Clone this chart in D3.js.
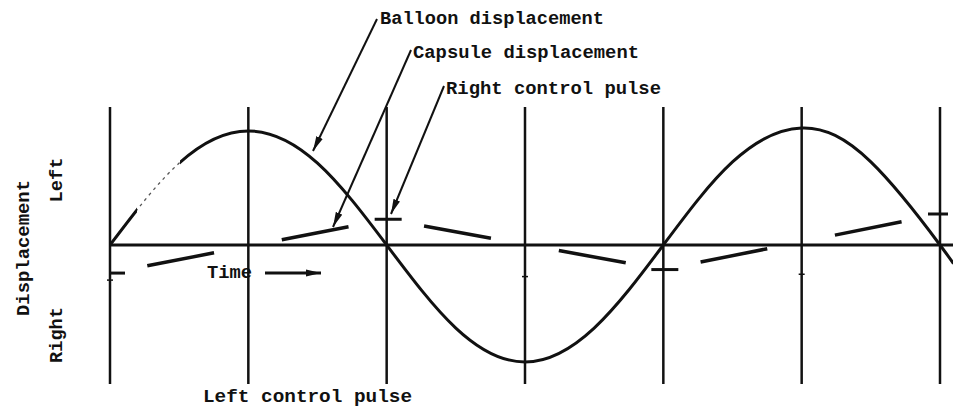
<!DOCTYPE html>
<html>
<head>
<meta charset="utf-8">
<script src="https://cdn.jsdelivr.net/npm/d3@7"></script>
<style>
body{margin:0;background:#fff;}
text{font-family:"Liberation Mono","DejaVu Sans Mono",monospace;font-weight:bold;fill:#111;}
</style>
</head>
<body>
<div class="chart"></div>
<script>
// time in grid intervals, displacement scaled so the balloon peak is 1
const gridTimes = [0, 1, 2, 3, 4, 5, 6];
const balloonTimes = [0, 0.5, 1, 1.5, 2, 2.5, 3, 3.5, 4, 4.5, 5, 5.5, 6, 6.1];
const balloonValues = [0, 0.70, 0.975, 0.70, 0, -0.71, -1.0, -0.71, 0, 0.71, 1.0, 0.71, 0, -0.17];
const pulseTimes = [0, 2, 4, 6];
const capsuleValues = [-0.24, 0.22, -0.21, 0.265];
const markTimes = [0, 3, 5];
const markValues = [-0.30, -0.27, -0.25];
const calloutLabels = ["Balloon displacement", "Capsule displacement", "Right control pulse"];

const width = 953, height = 409;
const svg = d3.select('.chart').append('svg')
    .attr('width', width)
    .attr('height', height);

const xScale = d3.scaleLinear().domain([0, 6]).range([110, 940]);
const yScale = d3.scaleLinear().domain([-1, 1]).range([362, 128]);

const ink = "#111";

// arrow heads
const defs = svg.append("defs");
defs.append("marker")
    .attr("id", "head")
    .attr("markerUnits", "userSpaceOnUse")
    .attr("markerWidth", 16).attr("markerHeight", 8)
    .attr("refX", 15).attr("refY", 4)
    .attr("orient", "auto")
  .append("path")
    .attr("d", "M0,0.5 L15,4 L0,7.5 Z")
    .attr("fill", ink);

// the scan lost part of the early balloon curve, keep it faint there
defs.append("clipPath").attr("id", "solidPart")
  .selectAll("rect")
  .data([[0, 137], [180, width]])
  .join("rect")
    .attr("x", d => d[0]).attr("y", 0)
    .attr("width", d => d[1] - d[0]).attr("height", height);
defs.append("clipPath").attr("id", "fadedPart")
  .append("rect")
    .attr("x", 137).attr("y", 0).attr("width", 43).attr("height", height);

// vertical grid lines at each time step
svg.selectAll(".grid")
  .data(gridTimes)
  .join("line")
    .attr("class", "grid")
    .attr("x1", d => xScale(d)).attr("x2", d => xScale(d))
    .attr("y1", 107).attr("y2", 384)
    .attr("stroke", ink).attr("stroke-width", 2.5);

// time axis
svg.append("line")
    .attr("x1", xScale(0)).attr("x2", width)
    .attr("y1", yScale(0)).attr("y2", yScale(0))
    .attr("stroke", ink).attr("stroke-width", 3);

// little level marks on some grid lines
svg.selectAll(".mark")
  .data(markTimes)
  .join("line")
    .attr("class", "mark")
    .attr("x1", d => xScale(d) - 3).attr("x2", d => xScale(d) + 3)
    .attr("y1", (d, i) => yScale(markValues[i])).attr("y2", (d, i) => yScale(markValues[i]))
    .attr("stroke", ink).attr("stroke-width", 1.5);

// balloon displacement
const balloon = balloonTimes.map((t, i) => [t, balloonValues[i]]);
const balloonLine = d3.line()
    .x(d => xScale(d[0]))
    .y(d => yScale(d[1]))
    .curve(d3.curveNatural);

svg.append("path")
    .attr("d", balloonLine(balloon))
    .attr("clip-path", "url(#solidPart)")
    .attr("fill", "none").attr("stroke", ink).attr("stroke-width", 3);
svg.append("path")
    .attr("d", balloonLine(balloon))
    .attr("clip-path", "url(#fadedPart)")
    .attr("fill", "none").attr("stroke", "#555").attr("stroke-width", 1.3)
    .attr("stroke-dasharray", "3 4");

// capsule displacement: dashed ramps between control pulses
const capsuleSegs = d3.pairs(pulseTimes.map((t, i) => [t, capsuleValues[i]]));
svg.selectAll(".capsule")
  .data(capsuleSegs)
  .join("line")
    .attr("class", "capsule")
    .attr("x1", d => xScale(d[0][0])).attr("y1", d => yScale(d[0][1]))
    .attr("x2", d => xScale(d[1][0])).attr("y2", d => yScale(d[1][1]))
    .attr("stroke", ink).attr("stroke-width", 3.5)
    .attr("stroke-dasharray", "68 69")
    .attr("stroke-dashoffset", 99);

// control pulse marks
svg.selectAll(".pulse")
  .data(pulseTimes)
  .join("line")
    .attr("class", "pulse")
    .attr("x1", d => Math.max(xScale(0), xScale(d) - 12))
    .attr("x2", d => Math.min(width - 5, xScale(d) + 15))
    .attr("y1", (d, i) => yScale(capsuleValues[i]))
    .attr("y2", (d, i) => yScale(capsuleValues[i]))
    .attr("stroke", ink).attr("stroke-width", 3);

// callouts
const callouts = [
    {x: 380, y: 24, len: 224, from: [377, 19], to: [313, 151]},
    {x: 413, y: 58, len: 226, from: [411, 50], to: [333, 227]},
    {x: 446, y: 94, len: 215, from: [444, 86], to: [391, 214]}
];
callouts.forEach((c, i) => {
    svg.append("text")
        .attr("x", c.x).attr("y", c.y)
        .attr("font-size", 18.5)
        .attr("textLength", c.len).attr("lengthAdjust", "spacingAndGlyphs")
        .text(calloutLabels[i]);
    svg.append("line")
        .attr("x1", c.from[0]).attr("y1", c.from[1])
        .attr("x2", c.to[0]).attr("y2", c.to[1])
        .attr("stroke", ink).attr("stroke-width", 2)
        .attr("marker-end", "url(#head)");
});

svg.append("text")
    .attr("x", 203).attr("y", 402)
    .attr("font-size", 18)
    .attr("textLength", 209).attr("lengthAdjust", "spacingAndGlyphs")
    .text("Left control pulse");

// time arrow
svg.append("text")
    .attr("x", 207).attr("y", 278)
    .attr("font-size", 18.5)
    .attr("textLength", 45).attr("lengthAdjust", "spacingAndGlyphs")
    .text("Time");
svg.append("line")
    .attr("x1", 265).attr("y1", 273)
    .attr("x2", 321).attr("y2", 273)
    .attr("stroke", ink).attr("stroke-width", 3)
    .attr("marker-end", "url(#head)");

// rotated axis labels
const sideLabels = [
    {text: "Displacement", x: 29, y: 248, len: 136},
    {text: "Left", x: 62, y: 180, len: 45},
    {text: "Right", x: 62, y: 335, len: 56}
];
svg.selectAll(".side")
  .data(sideLabels)
  .join("text")
    .attr("class", "side")
    .attr("transform", d => `translate(${d.x},${d.y}) rotate(-90)`)
    .attr("text-anchor", "middle")
    .attr("font-size", 18.5)
    .attr("textLength", d => d.len).attr("lengthAdjust", "spacingAndGlyphs")
    .text(d => d.text);
</script>
</body>
</html>
